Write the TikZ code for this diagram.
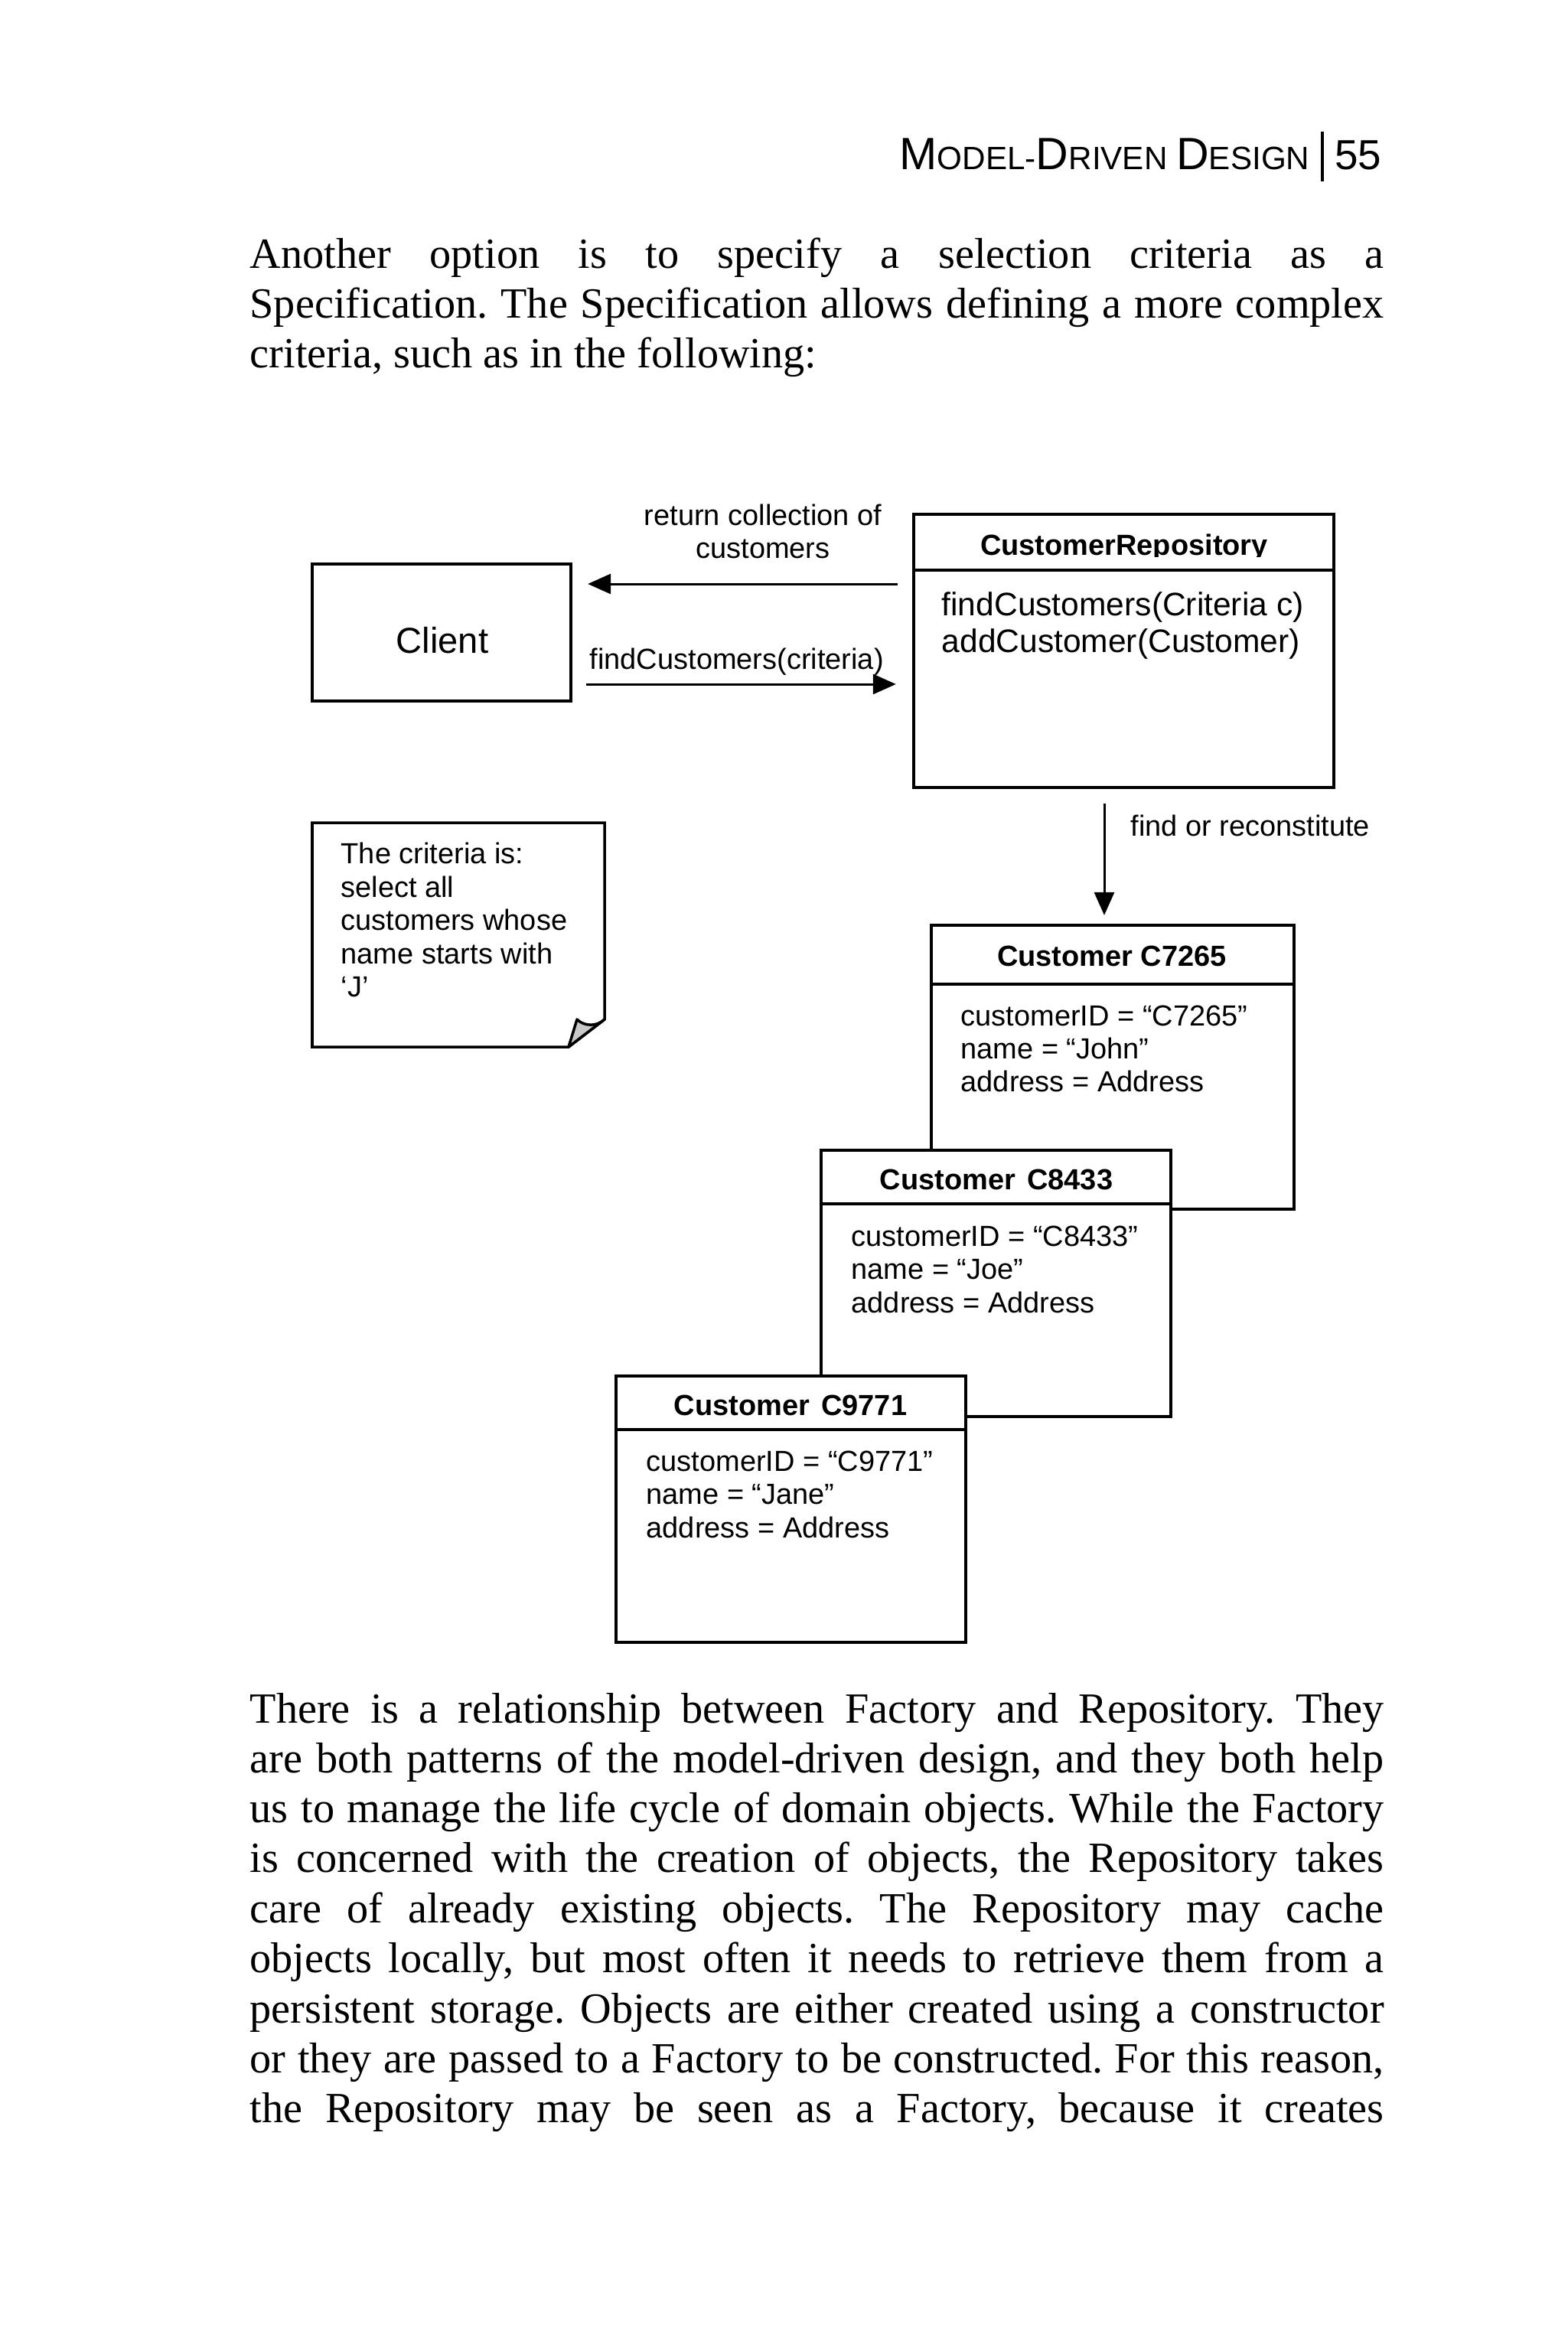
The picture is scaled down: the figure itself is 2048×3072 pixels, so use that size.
\documentclass[tikz,border=0pt]{standalone}
\usepackage{fontspec}
\setmainfont{Liberation Serif}
\newfontfamily\arial{Liberation Sans}
\usetikzlibrary{arrows.meta}
\frenchspacing
\newcommand\bodyf{\fontsize{16}{19}\selectfont}
\newcommand\dgf{\arial\fontsize{10.8}{13}\selectfont}
\newcommand\dgbf{\arial\bfseries\fontsize{10.8}{13}\selectfont}
\newcommand\mthf{\arial\fontsize{12.1}{14}\selectfont}
\newcommand\clf{\arial\fontsize{13.4}{16}\selectfont}
\newcommand\hdL{\arial\fontsize{16.8}{19}\selectfont}
\newcommand\hdS{\arial\fontsize{12.0}{14}\selectfont}
\newcommand\pgf{\arial\fontsize{15.6}{18}\selectfont}
\newcommand\jl[1]{\makebox[14.81cm][s]{#1}}
\definecolor{foldgray}{HTML}{C8C8C8}
\begin{document}
\begin{tikzpicture}[x=0.01cm,y=-0.01cm,
  box/.style={draw, line width=1pt, fill=white, inner sep=0pt, outer sep=0pt},
  arr/.style={line width=0.85pt, -{Triangle[length=0.3cm,width=0.26cm]}},
  bl/.style={anchor=base west, inner sep=0pt, font=\bodyf},
  lbl/.style={anchor=base west, inner sep=0pt, font=\dgf},
  clbl/.style={anchor=base, inner sep=0pt, font=\dgf},
  ttl/.style={anchor=base, inner sep=0pt, font=\dgbf},
  mth/.style={anchor=base west, inner sep=0pt, font=\mthf},
  divider/.style={line width=1pt}]
\fill[white] (0,0) rectangle (2048,3072);
\useasboundingbox (0,0) rectangle (2048,3072);

% ---------- header ----------
\node[anchor=base east, inner sep=0pt] (hd) at (1712,221)
  {\hdL M\hdS ODEL-\hdL D\hdS RIVEN \hdL D\hdS ESIGN};
\coordinate (bartop) at (1728,172);
\coordinate (barbot) at (1728,237);
\draw[line width=1.4pt] (bartop) -- (barbot);
\node[anchor=base east, inner sep=0pt, font=\pgf] (pg) at (1806,221) {55};

% ---------- paragraph 1 ----------
\node[bl] (pa1) at (326,350) {\jl{Another option is to specify a selection criteria as a}};
\node[bl] (pa2) at (326,415) {\jl{Specification. The Specification allows defining a more complex}};
\node[bl] (pa3) at (326,480) {criteria, such as in the following:};

% ---------- diagram ----------
\node[box, minimum width=5.49cm, minimum height=3.57cm] (repo) at (1468.5,850.5) {};
\draw[divider] ([yshift=-0.73cm]repo.north west) -- ([yshift=-0.73cm]repo.north east);
\begin{scope}
\clip (1194,672) rectangle (1743,727);
\node[ttl] (repot) at (1469,725) {CustomerRepository};
\end{scope}
\node[mth] (m1) at (1230,804) {findCustomers(Criteria c)};
\node[mth] (m2) at (1230,852) {addCustomer(Customer)};

\node[box, minimum width=3.38cm, minimum height=1.79cm] (client) at (577,826.5) {};
\node[anchor=base, inner sep=0pt, font=\clf] (clientt) at (578,853) {Client};

\coordinate (ret) at (0,763);
\coordinate (call) at (0,894);
\coordinate (downx) at (1443,0);
\draw[arr, shorten <=0.21cm, shorten >=0.22cm] (repo.west |- ret) -- (client.east |- ret);
\draw[arr, shorten <=0.20cm, shorten >=0.23cm] (client.east |- call) -- (repo.west |- call);
\node[clbl] (rl1) at (997,686) {return collection of};
\node[clbl] (rl2) at (997,729) {customers};
\node[lbl] (cl) at (770,874) {findCustomers(criteria)};

% note
\draw[line width=1pt, fill=white] (408,1075) -- (790,1075) -- (790,1332) -- (743,1368) -- (408,1368) -- cycle;
\draw[line width=1pt, fill=foldgray, line join=round] (743,1368) -- (754,1332) .. controls (764,1342) and (781,1341) .. (790,1332) -- cycle;
\node[lbl] (n1) at (445,1128) {The criteria is:};
\node[lbl] (n2) at (445,1172) {select all};
\node[lbl] (n3) at (445,1215) {customers whose};
\node[lbl] (n4) at (445,1259) {name starts with};
\node[lbl] (n5) at (445,1302) {‘J’};

% customer C7265
\node[box, minimum width=4.74cm, minimum height=3.71cm] (c1) at (1454,1394.5) {};
\draw[divider] ([yshift=-0.77cm]c1.north west) -- ([yshift=-0.77cm]c1.north east);
\node[ttl] (c1t) at (1453,1262) {Customer C7265};
\node[lbl] (c1a) at (1255,1340) {customerID = “C7265”};
\node[lbl] (c1b) at (1255,1383) {name = “John”};
\node[lbl] (c1c) at (1255,1426) {address = Address};

\draw[arr, shorten <=0.21cm, shorten >=0.13cm] (repo.south -| downx) -- (c1.north -| downx);
\node[lbl] (fr) at (1477,1092) {find or reconstitute};

% customer C8433
\node[box, minimum width=4.57cm, minimum height=3.48cm] (c2) at (1301.5,1677) {};
\draw[divider] ([yshift=-0.70cm]c2.north west) -- ([yshift=-0.70cm]c2.north east);
\node[ttl] (c2t) at (1302,1554) {Customer\hspace{0.4em}C8433};
\node[lbl] (c2a) at (1112,1628) {customerID = “C8433”};
\node[lbl] (c2b) at (1112,1671) {name = “Joe”};
\node[lbl] (c2c) at (1112,1715) {address = Address};

% customer C9771
\node[box, minimum width=4.57cm, minimum height=3.48cm] (c3) at (1033.5,1972) {};
\draw[divider] ([yshift=-0.70cm]c3.north west) -- ([yshift=-0.70cm]c3.north east);
\node[ttl] (c3t) at (1033,1849) {Customer\hspace{0.4em}C9771};
\node[lbl] (c3a) at (844,1922) {customerID = “C9771”};
\node[lbl] (c3b) at (844,1965) {name = “Jane”};
\node[lbl] (c3c) at (844,2009) {address = Address};

% ---------- paragraph 2 ----------
\node[bl] (pb1) at (326,2251) {\jl{There is a relationship between Factory and Repository. They}};
\node[bl] (pb2) at (326,2316) {\jl{are both patterns of the model-driven design, and they both help}};
\node[bl] (pb3) at (326,2381) {\jl{us to manage the life cycle of domain objects. While the Factory}};
\node[bl] (pb4) at (326,2446) {\jl{is concerned with the creation of objects, the Repository takes}};
\node[bl] (pb5) at (326,2512) {\jl{care of already existing objects. The Repository may cache}};
\node[bl] (pb6) at (326,2577) {\jl{objects locally, but most often it needs to retrieve them from a}};
\node[bl] (pb7) at (326,2643) {\jl{persistent storage. Objects are either created using a constructor}};
\node[bl] (pb8) at (326,2708) {\jl{or they are passed to a Factory to be constructed. For this reason,}};
\node[bl] (pb9) at (326,2773) {\jl{the Repository may be seen as a Factory, because it creates}};
\end{tikzpicture}
\end{document}
